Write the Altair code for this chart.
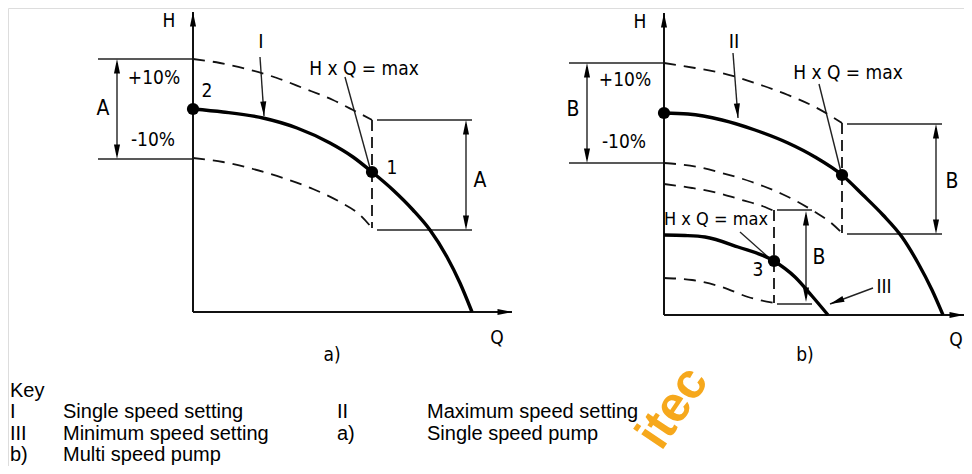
import altair as alt
import pandas as pd

W, H = 956, 458
XS = alt.Scale(domain=[8, 8 + W], nice=False, zero=False)
YS = alt.Scale(domain=[8, 8 + H], nice=False, zero=False, reverse=True)

# ---------------- curves (page-pixel coordinate system of the figure) ----------------
curve_I_x = [193, 223, 263, 297, 330, 353, 372, 393, 413, 430, 447, 460, 472]
curve_I_y = [109, 112, 118, 128, 143, 157, 172, 190, 210, 230, 257, 283, 312]
curve_II_x = [664, 688, 722, 755, 788, 815, 842, 863, 883, 902, 918, 932, 943]
curve_II_y = [113, 114, 120, 130, 143, 157, 175, 195, 215, 237, 263, 290, 315]
curve_III_x = [664, 685, 705, 738, 774, 795, 812, 828]
curve_III_y = [235, 235.5, 237, 247, 261, 277, 296, 315]

dash_a_up_x = [193, 220, 247, 277, 303, 333, 353, 372]
dash_a_up_y = [59, 63, 69, 78, 88, 100, 110, 120]
dash_a_lo_x = [193, 223, 253, 283, 313, 340, 360, 372]
dash_a_lo_y = [158, 162, 169, 178, 189, 202, 215, 228]
dash_b_up_x = [664, 695, 722, 755, 788, 815, 842]
dash_b_up_y = [63, 68, 73, 83, 95, 107, 123]
dash_b_lo_x = [664, 698, 722, 752, 782, 798, 815, 830, 842]
dash_b_lo_y = [163, 167, 173, 182, 194, 202, 212, 222, 233]
dash_c_up_x = [664, 692, 718, 742, 765, 774]
dash_c_up_y = [184, 188, 193, 200, 207, 211]
dash_c_lo_x = [664, 692, 722, 748, 774]
dash_c_lo_y = [278, 280, 287, 297, 303]

# vertical dashed limits: (x, y_top, y_bottom)
vdash = [(372, 120, 228), (842, 123, 233), (774, 210, 303)]

# thin straight lines: (x1, y1, x2, y2)
hlines = [
    (98, 59, 193, 59), (98, 159, 193, 159), (377, 120, 472, 120), (377, 230, 472, 230),
    (569, 63, 664, 63), (569, 163, 664, 163), (847, 124, 942, 124), (847, 234, 942, 234),
    (777, 210, 812, 210), (777, 304, 812, 304),
]
dim_arrows = [(117, 59, 159), (466, 120, 230), (587, 63, 163), (936, 124, 234), (806, 211, 302)]
leaders = [(345, 77, 370, 168), (819, 84, 841, 172), (740, 232, 768, 257)]
pointer_arrows = [(260, 57, 264, 116, 177), (733, 53, 738, 118, 175.5), (873, 288, 830, 304, 249)]
axes_lines = [(193, 312, 193, 12, 0), (193, 312, 512, 312, 90),
              (664, 315, 664, 13, 0), (664, 315, 964, 315, 90)]

points_x = [193, 372, 664, 842, 774]
points_y = [109, 172, 113, 175, 261]

labels = [
    ("H", 169, 21, 19), ("I", 261, 42, 20), ("H x Q = max", 364, 69, 19), ("2", 207, 91, 19),
    ("1", 392, 168, 19), ("A", 480, 181, 21), ("A", 103, 109, 21), ("+10%", 154, 78, 19),
    ("-10%", 153, 140, 19), ("Q", 497, 338, 19), ("a)", 332, 355, 19),
    ("H", 640, 22, 19), ("II", 734, 42, 20), ("H x Q = max", 848, 73, 19), ("B", 573, 110, 21),
    ("+10%", 625, 80, 19), ("-10%", 624, 142, 19), ("B", 952, 182, 21),
    ("H x Q = max", 716, 220, 18), ("3", 758, 270, 19), ("B", 819, 258, 21),
    ("III", 884, 287, 19), ("Q", 956, 340, 19), ("b)", 805, 355, 19),
]

key_text = ["Key", "I", "III", "b)", "Single speed setting", "Minimum speed setting",
            "Multi speed pump", "II", "a)", "Maximum speed setting", "Single speed pump"]
key_x = [10, 10, 10, 10, 63, 63, 63, 337, 337, 427, 427]
key_y = [397, 418, 440, 461, 418, 440, 461, 418, 440, 418, 440]

watermark_text = ["itec"]
watermark_x = [673]
watermark_y = [408]


def path_rows(name, xs, ys):
    return [{"seg": name, "i": k, "x": a, "y": b} for k, (a, b) in enumerate(zip(xs, ys))]


curves = pd.DataFrame(path_rows("I", curve_I_x, curve_I_y) + path_rows("II", curve_II_x, curve_II_y)
                      + path_rows("III", curve_III_x, curve_III_y))
dashes = pd.DataFrame(path_rows("au", dash_a_up_x, dash_a_up_y) + path_rows("al", dash_a_lo_x, dash_a_lo_y)
                      + path_rows("bu", dash_b_up_x, dash_b_up_y) + path_rows("bl", dash_b_lo_x, dash_b_lo_y)
                      + path_rows("cu", dash_c_up_x, dash_c_up_y) + path_rows("cl", dash_c_lo_x, dash_c_lo_y))
vd_rows = []
for n, (x, y1, y2) in enumerate(vdash):
    vd_rows += path_rows(f"v{n}", [x, x], [y1, y2])
vdashes = pd.DataFrame(vd_rows)

thin_rows, head_rows = [], []
for n, (x1, y1, x2, y2) in enumerate(hlines):
    thin_rows += path_rows(f"h{n}", [x1, x2], [y1, y2])
for n, (x, y1, y2) in enumerate(dim_arrows):
    thin_rows += path_rows(f"d{n}", [x, x], [y1 + 4, y2 - 4])
    head_rows += [{"x": x, "y": y1, "angle": 0}, {"x": x, "y": y2, "angle": 180}]
for n, (x1, y1, x2, y2) in enumerate(leaders):
    thin_rows += path_rows(f"l{n}", [x1, x2], [y1, y2])
for n, (x1, y1, x2, y2, ang) in enumerate(pointer_arrows):
    thin_rows += path_rows(f"p{n}", [x1, x2], [y1, y2])
    head_rows.append({"x": x2, "y": y2, "angle": ang})
thin = pd.DataFrame(thin_rows)

ax_rows = []
for n, (x1, y1, x2, y2, ang) in enumerate(axes_lines):
    ax_rows += path_rows(f"a{n}", [x1, x2], [y1, y2])
    head_rows.append({"x": x2, "y": y2, "angle": ang})
axes_df = pd.DataFrame(ax_rows)
heads = pd.DataFrame(head_rows)

pts = pd.DataFrame({"x": points_x, "y": points_y})
lab = pd.DataFrame(labels, columns=["t", "x", "y", "s"])
key = pd.DataFrame({"t": key_text, "x": key_x, "y": key_y})
wm = pd.DataFrame({"t": watermark_text, "x": watermark_x, "y": watermark_y})

enc = dict(x=alt.X("x:Q", scale=XS, axis=None), y=alt.Y("y:Q", scale=YS, axis=None))
lenc = dict(enc, detail="seg:N", order="i:Q")

DIAG_FONT = "DejaVu Sans Condensed, Liberation Sans Narrow, DejaVu Sans"

layers = [
    alt.Chart(wm).mark_text(
        font="Liberation Sans", fontWeight="bold", fontSize=50, color="#F6A81C", angle=304,
        align="center", baseline="middle").encode(**enc, text="t:N"),
    alt.Chart(thin).mark_line(color="#222", strokeWidth=1.4).encode(**lenc),
    alt.Chart(dashes).mark_line(color="#111", strokeWidth=1.8, strokeDash=[12, 8],
                                interpolate="monotone").encode(**lenc),
    alt.Chart(vdashes).mark_line(color="#111", strokeWidth=1.8, strokeDash=[11, 6]).encode(**lenc),
    alt.Chart(axes_df).mark_line(color="#111", strokeWidth=2).encode(**lenc),
    alt.Chart(curves).mark_line(color="#000", strokeWidth=3.4, interpolate="monotone").encode(**lenc),
    alt.Chart(heads).mark_point(shape="M0,0L0.42,2L-0.42,2Z", filled=True, color="#000",
                                opacity=1, size=210).encode(
        **enc, angle=alt.Angle("angle:Q", scale=None)),
    alt.Chart(pts).mark_circle(color="#000", opacity=1, size=150).encode(**enc),
    alt.Chart(lab).mark_text(font=DIAG_FONT, color="#000", align="center", baseline="middle").encode(
        **enc, text="t:N", size=alt.Size("s:Q", scale=None)),
    alt.Chart(key).mark_text(font="Liberation Sans", fontSize=20, color="#000", align="left",
                             baseline="alphabetic").encode(**enc, text="t:N"),
]

chart = alt.layer(*layers).properties(width=W, height=H, padding=0,
                                      autosize=alt.AutoSizeParams(type="none")).configure_view(
    strokeWidth=0).configure(background="white")

chart.save("out.html", embed_options={"renderer": "svg", "actions": False})
